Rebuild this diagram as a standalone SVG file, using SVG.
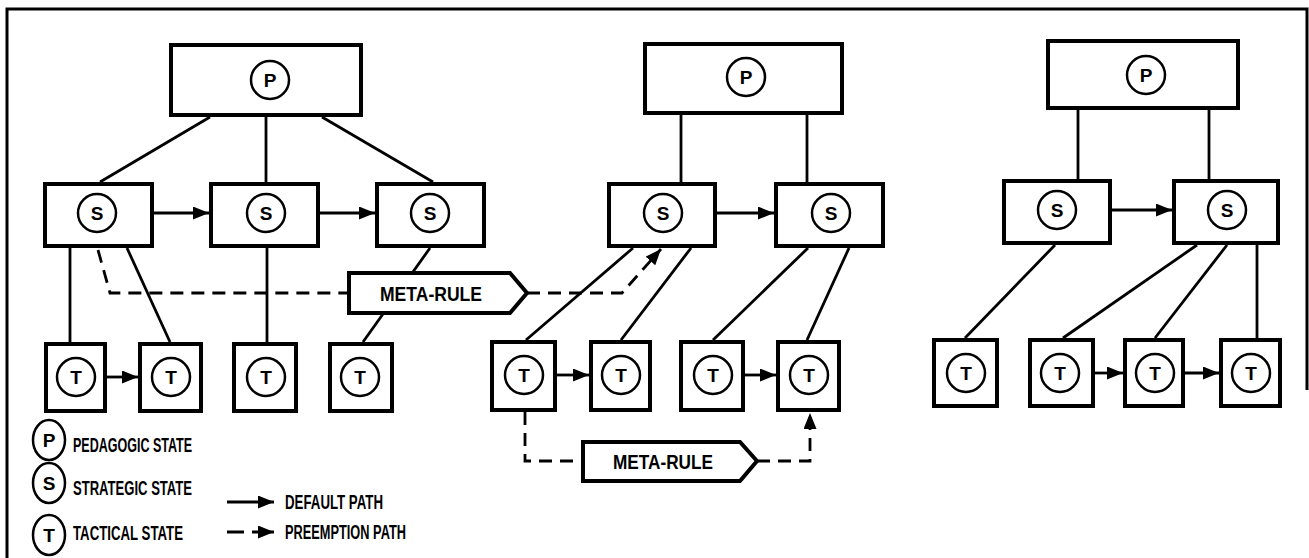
<svg xmlns="http://www.w3.org/2000/svg" width="1309" height="558" viewBox="0 0 1309 558">
<defs>
<marker id="ah" markerUnits="userSpaceOnUse" markerWidth="16" markerHeight="13" refX="16" refY="6.5" orient="auto">
<path d="M0,0 L16,6.5 L0,13 z" fill="#000"/>
</marker>
<style>
.box{fill:#fff;stroke:#000;stroke-width:4}
.cir{fill:#fff;stroke:#000;stroke-width:2.5}
.ln{fill:none;stroke:#000;stroke-width:2.8}
.dash{stroke-dasharray:13 8}
.arr{marker-end:url(#ah)}
.ltr{font-family:"Liberation Sans",Arial,sans-serif;font-weight:bold;font-size:19px;text-anchor:middle}
.mr{font-family:"Liberation Sans",Arial,sans-serif;font-weight:bold;font-size:21px;text-anchor:middle}
.lg{font-family:"Liberation Sans",Arial,sans-serif;font-weight:bold;font-size:21px}
</style>
</defs>
<rect width="1309" height="558" fill="#fff"/>
<g id="frame" class="ln" style="stroke-width:3">
<path d="M7,558 L7,9 L1307,9 L1307,390"/>
</g>
<g id="connectors">
<path class="ln" d="M210,117 L100,182"/>
<path class="ln" d="M266,117 L266,182"/>
<path class="ln" d="M322,117 L433,182"/>
<path class="ln arr" d="M154,213 L209,213"/>
<path class="ln arr" d="M320,213 L375,213"/>
<path class="ln" d="M70,248 L70,342"/>
<path class="ln" d="M127,248 L170,342"/>
<path class="ln" d="M267,248 L267,342"/>
<path class="ln" d="M430,248 L363,342"/>
<path class="ln arr" d="M107,377 L138,377"/>
<path class="ln dash" d="M98,250 L110,293 L349,293"/>
<path class="ln dash arr" d="M527,293 L622,293 L661,249"/>
<path class="ln" d="M681,115 L681,182"/>
<path class="ln" d="M807,115 L807,182"/>
<path class="ln arr" d="M717,213 L774,213"/>
<path class="ln" d="M633,248 L526,340"/>
<path class="ln" d="M691,248 L621,340"/>
<path class="ln" d="M808,248 L713,340"/>
<path class="ln" d="M849,248 L807,340"/>
<path class="ln arr" d="M557,375 L589,375"/>
<path class="ln arr" d="M745,375 L776,375"/>
<path class="ln dash" d="M525,412 L525,461 L583,461"/>
<path class="ln dash arr" d="M757,461 L810,461 L810,413"/>
<path class="ln" d="M1078,110 L1078,179"/>
<path class="ln" d="M1209,110 L1209,179"/>
<path class="ln arr" d="M1112,210 L1172,210"/>
<path class="ln" d="M1055,245 L965,338"/>
<path class="ln" d="M1197,245 L1063,338"/>
<path class="ln" d="M1227,245 L1155,338"/>
<path class="ln" d="M1257,245 L1257,338"/>
<path class="ln arr" d="M1095,373 L1123,373"/>
<path class="ln arr" d="M1185,373 L1219,373"/>
</g>
<g id="P1"><rect class="box" x="171" y="45" width="190" height="70"/><circle class="cir" cx="270" cy="80" r="19"/><text class="ltr" x="270" y="87">P</text></g>
<g id="S1"><rect class="box" x="45" y="184" width="107" height="62"/><circle class="cir" cx="97" cy="213" r="19"/><text class="ltr" x="97" y="220">S</text></g>
<g id="S2"><rect class="box" x="211" y="184" width="107" height="62"/><circle class="cir" cx="266" cy="213" r="19"/><text class="ltr" x="266" y="220">S</text></g>
<g id="S3"><rect class="box" x="377" y="184" width="107" height="62"/><circle class="cir" cx="430" cy="213" r="19"/><text class="ltr" x="430" y="220">S</text></g>
<g id="T1"><rect class="box" x="46" y="344" width="59" height="67"/><circle class="cir" cx="76" cy="377" r="19"/><text class="ltr" x="76" y="384">T</text></g>
<g id="T2"><rect class="box" x="140" y="344" width="61" height="67"/><circle class="cir" cx="171" cy="377" r="19"/><text class="ltr" x="171" y="384">T</text></g>
<g id="T3"><rect class="box" x="234" y="344" width="62" height="67"/><circle class="cir" cx="266" cy="377" r="19"/><text class="ltr" x="266" y="384">T</text></g>
<g id="T4"><rect class="box" x="330" y="344" width="62" height="67"/><circle class="cir" cx="360" cy="377" r="19"/><text class="ltr" x="360" y="384">T</text></g>
<g id="MR1"><path class="box" d="M349,273 L510,273 L527,293 L510,313 L349,313 z"/><text class="mr" x="431" y="301" textLength="102" lengthAdjust="spacingAndGlyphs">META-RULE</text></g>
<g id="P2"><rect class="box" x="645" y="44" width="197" height="69"/><circle class="cir" cx="746" cy="77" r="19"/><text class="ltr" x="746" y="84">P</text></g>
<g id="S4"><rect class="box" x="609" y="184" width="106" height="62"/><circle class="cir" cx="663" cy="213" r="19"/><text class="ltr" x="663" y="220">S</text></g>
<g id="S5"><rect class="box" x="776" y="184" width="107" height="62"/><circle class="cir" cx="831" cy="213" r="19"/><text class="ltr" x="831" y="220">S</text></g>
<g id="T5"><rect class="box" x="492" y="342" width="63" height="68"/><circle class="cir" cx="524" cy="375" r="19"/><text class="ltr" x="524" y="382">T</text></g>
<g id="T6"><rect class="box" x="591" y="342" width="59" height="68"/><circle class="cir" cx="621" cy="375" r="19"/><text class="ltr" x="621" y="382">T</text></g>
<g id="T7"><rect class="box" x="681" y="342" width="62" height="68"/><circle class="cir" cx="713" cy="375" r="19"/><text class="ltr" x="713" y="382">T</text></g>
<g id="T8"><rect class="box" x="778" y="342" width="61" height="68"/><circle class="cir" cx="809" cy="375" r="19"/><text class="ltr" x="809" y="382">T</text></g>
<g id="MR2"><path class="box" d="M583,442 L740,442 L757,461 L740,481 L583,481 z"/><text class="mr" x="663" y="469" textLength="100" lengthAdjust="spacingAndGlyphs">META-RULE</text></g>
<g id="P3"><rect class="box" x="1048" y="41" width="190" height="67"/><circle class="cir" cx="1146" cy="75" r="19"/><text class="ltr" x="1146" y="82">P</text></g>
<g id="S6"><rect class="box" x="1004" y="181" width="106" height="62"/><circle class="cir" cx="1057" cy="210" r="19"/><text class="ltr" x="1057" y="217">S</text></g>
<g id="S7"><rect class="box" x="1174" y="181" width="104" height="62"/><circle class="cir" cx="1227" cy="210" r="19"/><text class="ltr" x="1227" y="217">S</text></g>
<g id="T9"><rect class="box" x="934" y="340" width="63" height="66"/><circle class="cir" cx="966" cy="373" r="19"/><text class="ltr" x="966" y="380">T</text></g>
<g id="T10"><rect class="box" x="1030" y="340" width="63" height="66"/><circle class="cir" cx="1060" cy="373" r="19"/><text class="ltr" x="1060" y="380">T</text></g>
<g id="T11"><rect class="box" x="1125" y="340" width="58" height="66"/><circle class="cir" cx="1155" cy="373" r="19"/><text class="ltr" x="1155" y="380">T</text></g>
<g id="T12"><rect class="box" x="1221" y="340" width="59" height="66"/><circle class="cir" cx="1251" cy="373" r="19"/><text class="ltr" x="1251" y="380">T</text></g>
<g id="legend">
<ellipse class="cir" cx="49" cy="440" rx="16" ry="20"/><text class="ltr" x="49" y="447">P</text>
<text class="lg" x="73" y="452" textLength="119" lengthAdjust="spacingAndGlyphs">PEDAGOGIC STATE</text>
<ellipse class="cir" cx="49" cy="483" rx="16" ry="20"/><text class="ltr" x="49" y="490">S</text>
<text class="lg" x="73" y="495" textLength="119" lengthAdjust="spacingAndGlyphs">STRATEGIC STATE</text>
<ellipse class="cir" cx="49" cy="535" rx="16" ry="20"/><text class="ltr" x="49" y="542">T</text>
<text class="lg" x="73" y="540" textLength="110" lengthAdjust="spacingAndGlyphs">TACTICAL STATE</text>
<path class="ln arr" d="M227,502 L274,502"/>
<text class="lg" x="285" y="509" textLength="98" lengthAdjust="spacingAndGlyphs">DEFAULT PATH</text>
<path class="ln arr" d="M227,532 L244,532 M252,532 L274,532"/>
<text class="lg" x="285" y="539" textLength="121" lengthAdjust="spacingAndGlyphs">PREEMPTION PATH</text>
</g>
</svg>
